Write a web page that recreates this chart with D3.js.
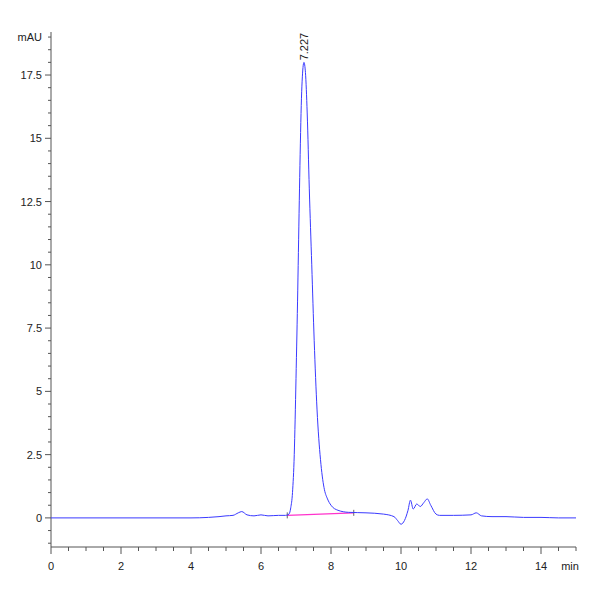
<!DOCTYPE html>
<html>
<head>
<meta charset="utf-8">
<script src="https://cdn.jsdelivr.net/npm/d3@7"></script>
<style>
body { margin: 0; background: #fff; }
text { font-family: "Liberation Sans Narrow", "Liberation Sans", Arial, sans-serif; }
</style>
</head>
<body>
<svg id="chart"></svg>
<script>
// chromatogram trace, minutes vs mAU
const times = [0, 1, 2, 3, 4, 4.5, 4.8, 5.0, 5.2, 5.35, 5.45, 5.6, 5.8, 6.0, 6.2, 6.5, 6.7, 6.8, 6.85, 6.9, 6.95, 7.0, 7.05, 7.1, 7.15, 7.2, 7.227, 7.27, 7.32, 7.38, 7.45, 7.52, 7.6, 7.7, 7.8, 7.9, 8.0, 8.2, 8.5, 9.0, 9.5, 9.8, 9.9, 10.0, 10.1, 10.2, 10.27, 10.35, 10.45, 10.55, 10.65, 10.75, 10.85, 11.0, 11.1, 11.5, 12.0, 12.15, 12.3, 12.6, 13.0, 13.5, 14.0, 14.5, 15.0];
const signal = [0, 0, 0, 0, 0, 0.02, 0.05, 0.08, 0.1, 0.2, 0.25, 0.12, 0.08, 0.12, 0.08, 0.1, 0.1, 0.15, 0.4, 1.0, 2.5, 5.5, 9.0, 13.0, 16.3, 17.8, 18.0, 17.6, 16.0, 13.0, 10.0, 7.0, 4.3, 2.3, 1.2, 0.75, 0.5, 0.3, 0.22, 0.2, 0.15, 0.05, -0.1, -0.25, -0.1, 0.3, 0.7, 0.35, 0.55, 0.45, 0.6, 0.75, 0.5, 0.15, 0.1, 0.1, 0.12, 0.2, 0.08, 0.05, 0.05, 0.02, 0.02, 0.0, 0.0];
const baseline = [[6.75, 0.1], [8.65, 0.2]];
const peakLabel = { t: 7.227, v: 18.0, text: "7.227" };
const xTicks = [0, 2, 4, 6, 8, 10, 12, 14];
const yTicks = [0, 2.5, 5, 7.5, 10, 12.5, 15, 17.5];

const width = 600, height = 600;
const svg = d3.select("#chart").attr("width", width).attr("height", height);

const x = d3.scaleLinear().domain([0, 15]).range([51, 576]);
const y = d3.scaleLinear().domain([-1.15, 0]).range([547, 518]);
y.domain([-1.15, 19.2]).range([547, 32]);

// y axis
svg.append("line").attr("x1", 51).attr("x2", 51).attr("y1", 32).attr("y2", 547)
    .attr("stroke", "#555");
svg.append("g").selectAll("line")
    .data(d3.range(-1, 19.01, 0.5))
    .join("line")
    .attr("x1", 51).attr("x2", (d) => yTicks.includes(d) ? 45 : 48)
    .attr("y1", (d) => y(d)).attr("y2", (d) => y(d))
    .attr("stroke", "#555");
svg.append("g").selectAll("text")
    .data(yTicks)
    .join("text")
    .attr("x", 42).attr("y", (d) => y(d) + 4)
    .attr("text-anchor", "end").attr("font-size", 11).attr("fill", "#222")
    .text((d) => d);
svg.append("text").attr("x", 42).attr("y", 41).attr("text-anchor", "end")
    .attr("font-size", 11).attr("fill", "#222").text("mAU");

// x axis
svg.append("line").attr("x1", 51).attr("x2", 576).attr("y1", 547).attr("y2", 547)
    .attr("stroke", "#555");
svg.append("g").selectAll("line")
    .data(d3.range(0, 15.01, 0.5))
    .join("line")
    .attr("x1", (d) => x(d)).attr("x2", (d) => x(d))
    .attr("y1", 547).attr("y2", (d) => xTicks.includes(d) ? 554 : 551)
    .attr("stroke", "#555");
svg.append("g").selectAll("text")
    .data(xTicks)
    .join("text")
    .attr("x", (d) => x(d)).attr("y", 570)
    .attr("text-anchor", "middle").attr("font-size", 11).attr("fill", "#222")
    .text((d) => d);
svg.append("text").attr("x", 570).attr("y", 570).attr("text-anchor", "middle")
    .attr("font-size", 11).attr("fill", "#222").text("min");

// integration baseline
svg.append("line")
    .attr("x1", x(baseline[0][0])).attr("y1", y(baseline[0][1]))
    .attr("x2", x(baseline[1][0])).attr("y2", y(baseline[1][1]))
    .attr("stroke", "#ff33cc").attr("stroke-width", 1.2);
svg.append("g").selectAll("line")
    .data(baseline)
    .join("line")
    .attr("x1", (d) => x(d[0])).attr("x2", (d) => x(d[0]))
    .attr("y1", (d) => y(d[1]) - 3).attr("y2", (d) => y(d[1]) + 3)
    .attr("stroke", "#666");

// trace
const line = d3.line()
    .x((d, i) => x(times[i]))
    .y((d) => y(d))
    .curve(d3.curveMonotoneX);
svg.append("path")
    .attr("d", line(signal))
    .attr("fill", "none")
    .attr("stroke", "#3a3aff")
    .attr("stroke-width", 1);

// peak label
svg.append("text")
    .attr("transform", `translate(${x(peakLabel.t) + 4},${y(peakLabel.v) - 2}) rotate(-90)`)
    .attr("font-size", 11).attr("fill", "#222")
    .text(peakLabel.text);
</script>
</body>
</html>
